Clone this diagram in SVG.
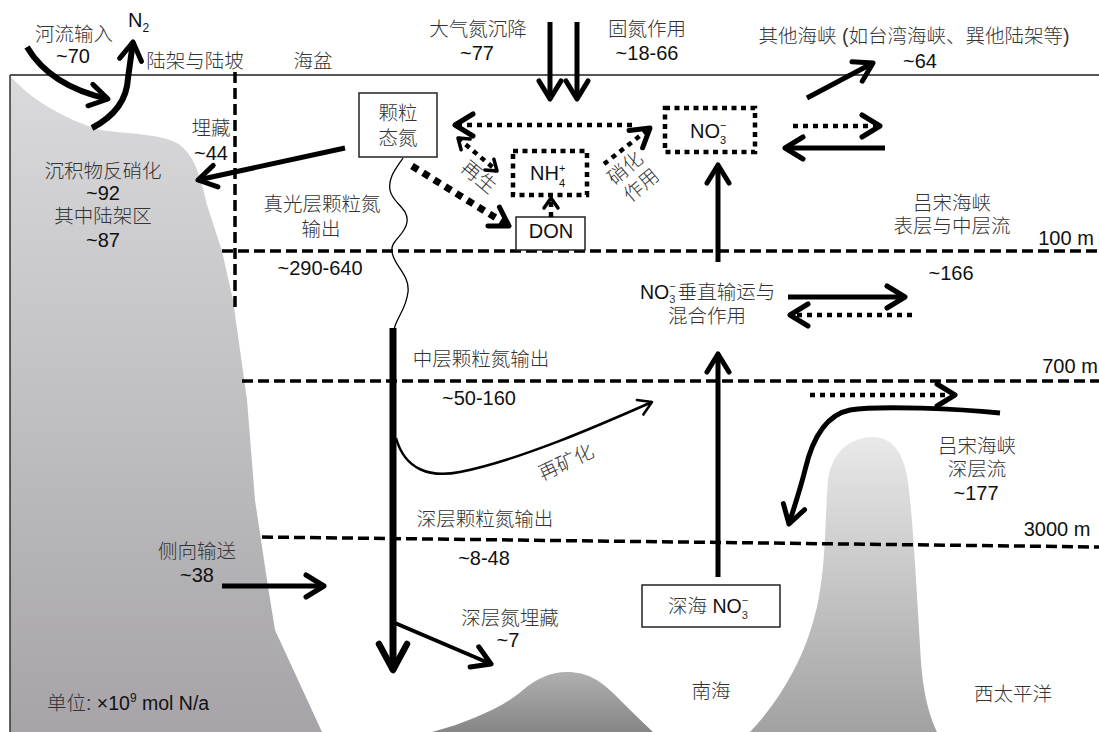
<svg xmlns="http://www.w3.org/2000/svg" width="1099" height="732" viewBox="0 0 1099 732">
<defs>
  <linearGradient id="gShelf" x1="0" y1="76" x2="0" y2="732" gradientUnits="userSpaceOnUse">
    <stop offset="0" stop-color="#dadadc"/>
    <stop offset="1" stop-color="#a6a4a8"/>
  </linearGradient>
  <linearGradient id="gMound" x1="0" y1="672" x2="0" y2="732" gradientUnits="userSpaceOnUse">
    <stop offset="0" stop-color="#b0b0b0"/>
    <stop offset="1" stop-color="#868686"/>
  </linearGradient>
  <linearGradient id="gRidge" x1="0" y1="437" x2="0" y2="732" gradientUnits="userSpaceOnUse">
    <stop offset="0" stop-color="#e9e9e9"/>
    <stop offset="1" stop-color="#a2a2a2"/>
  </linearGradient>
  <marker id="ahL" markerUnits="userSpaceOnUse" viewBox="-40 -20 50 40" markerWidth="50" markerHeight="40" refX="0" refY="0" orient="auto" overflow="visible">
    <path class="head" d="M-26,-14 L0,0 L-26,14" stroke-width="6.5"/>
  </marker>
  <marker id="ahM" markerUnits="userSpaceOnUse" viewBox="-30 -20 40 40" markerWidth="40" markerHeight="40" refX="0" refY="0" orient="auto" overflow="visible">
    <path class="head" d="M-18,-11 L0,0 L-18,11" stroke-width="5"/>
  </marker>
  <marker id="ahS" markerUnits="userSpaceOnUse" viewBox="-20 -15 30 30" markerWidth="30" markerHeight="30" refX="0" refY="0" orient="auto" overflow="visible">
    <path class="head" d="M-13,-8 L0,0 L-13,8" stroke-width="2.5"/>
  </marker>
  <marker id="ahX" markerUnits="userSpaceOnUse" viewBox="-20 -15 30 30" markerWidth="30" markerHeight="30" refX="0" refY="0" orient="auto-start-reverse" overflow="visible">
    <path class="head" d="M-10,-7 L0,0 L-10,7" stroke-width="3.5"/>
  </marker>
</defs>
<style>
  .head { fill: none; stroke: #000; stroke-linecap: round; stroke-linejoin: round; stroke-dasharray: none; }
  .t { font-family: "Liberation Sans", "Noto Sans CJK SC", sans-serif; font-size: 19.5px; font-weight: 300; fill: #333; text-anchor: middle; }
  .n { font-family: "Liberation Sans", "Noto Sans CJK SC", sans-serif; font-size: 20px; fill: #111; text-anchor: middle; }
  .st { text-anchor: start; }
  .depth { fill: none; stroke: #000; stroke-width: 3.5; stroke-dasharray: 11 5; }
  .box { fill: #fff; stroke: #222; stroke-width: 1.5; }
  .dbox { fill: none; stroke: #000; stroke-width: 4.5; stroke-dasharray: 5 4.5; }
  .solid { fill: none; stroke: #000; stroke-linecap: butt; }
  .dots { fill: none; stroke: #000; stroke-width: 4.5; stroke-dasharray: 5 5; }
</style>

<!-- seafloor topography -->
<g id="terrain">
  <path d="M10,76 C25,92 50,114 100,130 C130,134 160,134 177,143 C192,152 200,172 207,205 L222,251 L233,300 L240,350 L247,400 L251,450 L255,500 L261,540 L267,580 L275,630 L322,732 L10,732 Z" fill="url(#gShelf)"/>
  <path d="M432,732 C470,722 505,706 523,690 C536,679 550,672 567,672 C588,672 600,681 612,692 C624,704 638,718 653,732 Z" fill="url(#gMound)"/>
  <path d="M750,732 C785,695 812,645 820,590 C826,555 825,515 828,480 C831,455 848,437 873,437 C895,437 905,458 908,482 C913,520 916,580 920,645 C922,690 928,712 937,732 Z" fill="url(#gRidge)"/>
  <line x1="10" y1="75" x2="1099" y2="75" stroke="#555" stroke-width="2"/>
  <line x1="10" y1="75" x2="10" y2="732" stroke="#333" stroke-width="1.5"/>
</g>

<!-- depth horizons and shelf/basin divide -->
<g id="horizons">
  <line class="depth" x1="235" y1="72" x2="235" y2="308"/>
  <line class="depth" x1="222" y1="251" x2="1099" y2="251"/>
  <line class="depth" x1="242" y1="381" x2="1099" y2="381"/>
  <line class="depth" x1="262" y1="537" x2="1099" y2="547"/>
  <text class="n" x="1066" y="245">100 m</text>
  <text class="n" x="1070" y="373">700 m</text>
  <text class="n" x="1057" y="536">3000 m</text>
</g>

<!-- nitrogen pools -->
<g id="node-pn">
  <rect class="box" x="359" y="93" width="78" height="64"/>
  <text class="t" x="398" y="120">颗粒</text>
  <text class="t" x="398" y="145">态氮</text>
</g>
<g id="node-nh4">
  <rect class="dbox" x="513" y="151" width="74" height="44"/>
  <text class="n st" x="530" y="180">NH<tspan font-size="11" dy="7">4</tspan><tspan font-size="11" dx="-6.1" dy="-15">+</tspan></text>
</g>
<g id="node-don">
  <rect class="box" x="516" y="217" width="69" height="33"/>
  <text class="n" x="551" y="238">DON</text>
</g>
<g id="node-no3">
  <rect class="dbox" x="665" y="108" width="90" height="44"/>
  <text class="n st" x="690" y="138">NO<tspan font-size="11" dy="6">3</tspan><tspan font-size="11" dx="-6.1" dy="-15">−</tspan></text>
</g>
<g id="node-deep-no3">
  <rect class="box" x="642" y="585" width="138" height="42"/>
  <text class="t st" x="668" y="613">深海 <tspan style="font-weight:400;fill:#111">NO</tspan><tspan font-size="11" dy="6">3</tspan><tspan font-size="11" dx="-6.1" dy="-15">−</tspan></text>
</g>

<!-- fluxes -->
<g id="connectors">
  <!-- river input and N2 loss -->
  <path class="solid" stroke-width="6" d="M27,47 Q50,86 108,99" marker-end="url(#ahM)"/>
  <path class="solid" stroke-width="6" d="M92,128 C115,116 127,100 128,78 L133,42" marker-end="url(#ahM)"/>
  <!-- shelf burial -->
  <line class="solid" stroke-width="5" x1="345" y1="148" x2="198" y2="180" marker-end="url(#ahM)"/>
  <!-- atmospheric deposition and fixation -->
  <line class="solid" stroke-width="5" x1="550" y1="22" x2="550" y2="99" marker-end="url(#ahM)"/>
  <line class="solid" stroke-width="5" x1="577" y1="22" x2="577" y2="99" marker-end="url(#ahM)"/>
  <!-- nitrate uptake to particulate N -->
  <line class="dots" x1="632" y1="125" x2="455" y2="125" marker-end="url(#ahM)"/>
  <!-- nitrification -->
  <line class="dots" x1="604" y1="164" x2="650" y2="128" marker-end="url(#ahM)"/>
  <!-- regeneration -->
  <line class="dots" stroke-width="4" x1="458" y1="138" x2="497" y2="171" marker-start="url(#ahX)" marker-end="url(#ahX)"/>
  <!-- particulate N to DON -->
  <line fill="none" stroke="#000" stroke-width="7" stroke-dasharray="7 6" x1="412" y1="166" x2="509" y2="226" marker-end="url(#ahM)"/>
  <!-- DON to NH4 -->
  <line class="dots" stroke-width="3.5" stroke-dasharray="4 3" x1="551" y1="217" x2="551" y2="198" marker-end="url(#ahX)"/>
  <!-- exchanges with other straits and Luzon upper layer -->
  <line class="solid" stroke-width="5" x1="807" y1="98" x2="873" y2="63" marker-end="url(#ahM)"/>
  <line class="dots" x1="793" y1="126" x2="880" y2="126" marker-end="url(#ahM)"/>
  <line class="solid" stroke-width="5" x1="885" y1="148" x2="785" y2="148" marker-end="url(#ahM)"/>
  <!-- nitrate vertical supply -->
  <line class="solid" stroke-width="5" x1="718" y1="262" x2="718" y2="165" marker-end="url(#ahM)"/>
  <line class="solid" stroke-width="5" x1="718" y1="577" x2="718" y2="354" marker-end="url(#ahM)"/>
  <!-- intermediate exchange through Luzon Strait -->
  <line class="solid" stroke-width="5" x1="788" y1="297" x2="905" y2="297" marker-end="url(#ahM)"/>
  <line class="dots" x1="912" y1="315" x2="790" y2="315" marker-end="url(#ahM)"/>
  <line class="dots" x1="810" y1="395" x2="955" y2="395" marker-end="url(#ahM)"/>
  <!-- Luzon deep inflow -->
  <path class="solid" stroke-width="5" d="M1000,413 C960,409 880,405 850,410 C825,415 812,440 805,470 C799,494 793,510 789,524" marker-end="url(#ahM)"/>
  <!-- particulate export: euphotic wave then sinking column -->
  <path fill="none" stroke="#000" stroke-width="1.3" d="M403,158 C395,170 388,178 390,190 C392,203 409,208 407,222 C405,236 390,240 392,252 C394,266 410,275 408,292 C406,310 396,318 394,330"/>
  <line class="solid" stroke-width="7" x1="393" y1="328" x2="393" y2="670" marker-end="url(#ahL)"/>
  <!-- remineralization -->
  <path fill="none" stroke="#000" stroke-width="2.5" d="M396,438 C405,470 430,478 460,472 C520,460 600,425 652,402" marker-end="url(#ahS)"/>
  <!-- deep burial -->
  <line class="solid" stroke-width="4" x1="395" y1="623" x2="491" y2="664" marker-end="url(#ahM)"/>
  <!-- lateral transport -->
  <line class="solid" stroke-width="5" x1="222" y1="586" x2="324" y2="586" marker-end="url(#ahM)"/>
</g>

<!-- labels -->
<g id="labels">
  <text class="t" x="74" y="41">河流输入</text>
  <text class="n" x="73" y="63">~70</text>
  <text class="n st" x="128" y="27">N<tspan font-size="12" dy="5">2</tspan></text>
  <text class="t" x="195" y="68">陆架与陆坡</text>
  <text class="t" x="313" y="68">海盆</text>
  <text class="t" x="211" y="135">埋藏</text>
  <text class="n" x="211" y="160">~44</text>
  <text class="t" x="103" y="178">沉积物反硝化</text>
  <text class="n" x="103" y="200">~92</text>
  <text class="t" x="103" y="223">其中陆架区</text>
  <text class="n" x="103" y="247">~87</text>
  <text class="t" x="322" y="211">真光层颗粒氮</text>
  <text class="t" x="321" y="236">输出</text>
  <text class="n" x="320" y="275">~290-640</text>
  <text class="t" x="478" y="36">大气氮沉降</text>
  <text class="n" x="477" y="60">~77</text>
  <text class="t" x="647" y="36">固氮作用</text>
  <text class="n" x="647" y="60">~18-66</text>
  <text class="t" x="914" y="43">其他海峡 (如台湾海峡、巽他陆架等)</text>
  <text class="n" x="920" y="68">~64</text>
  <text class="t" x="479" y="184" transform="rotate(40 479 177)">再生</text>
  <text class="t" x="625" y="175" transform="rotate(-40 625 168)">硝化</text>
  <text class="t" x="641" y="192" transform="rotate(-40 641 185)">作用</text>
  <text class="t" x="952" y="210">吕宋海峡</text>
  <text class="t" x="952" y="233">表层与中层流</text>
  <text class="n" x="951" y="280">~166</text>
  <text class="t st" x="640" y="299"><tspan style="font-weight:400;fill:#111">NO</tspan><tspan font-size="11" dy="4">3</tspan><tspan font-size="11" dx="-6.1" dy="-13">−</tspan><tspan dy="9" dx="2">垂直输运与</tspan></text>
  <text class="t" x="707" y="323">混合作用</text>
  <text class="t" x="481" y="366">中层颗粒氮输出</text>
  <text class="n" x="479" y="405">~50-160</text>
  <text class="t" x="566" y="469" font-size="18" transform="rotate(-25 566 462)">再矿化</text>
  <text class="t" x="977" y="453">吕宋海峡</text>
  <text class="t" x="977" y="476">深层流</text>
  <text class="n" x="976" y="500">~177</text>
  <text class="t" x="485" y="526">深层颗粒氮输出</text>
  <text class="n" x="484" y="565">~8-48</text>
  <text class="t" x="197" y="558">侧向输送</text>
  <text class="n" x="197" y="582">~38</text>
  <text class="t" x="510" y="625">深层氮埋藏</text>
  <text class="n" x="508" y="647">~7</text>
  <text class="t" x="711" y="698">南海</text>
  <text class="t" x="1013" y="701">西太平洋</text>
  <text class="t st" x="47" y="710">单位: <tspan style="font-weight:400;fill:#111">×10</tspan><tspan font-size="12" dy="-8" style="fill:#111">9</tspan><tspan dy="8" style="font-weight:400;fill:#111"> mol N/a</tspan></text>
</g>
</svg>
